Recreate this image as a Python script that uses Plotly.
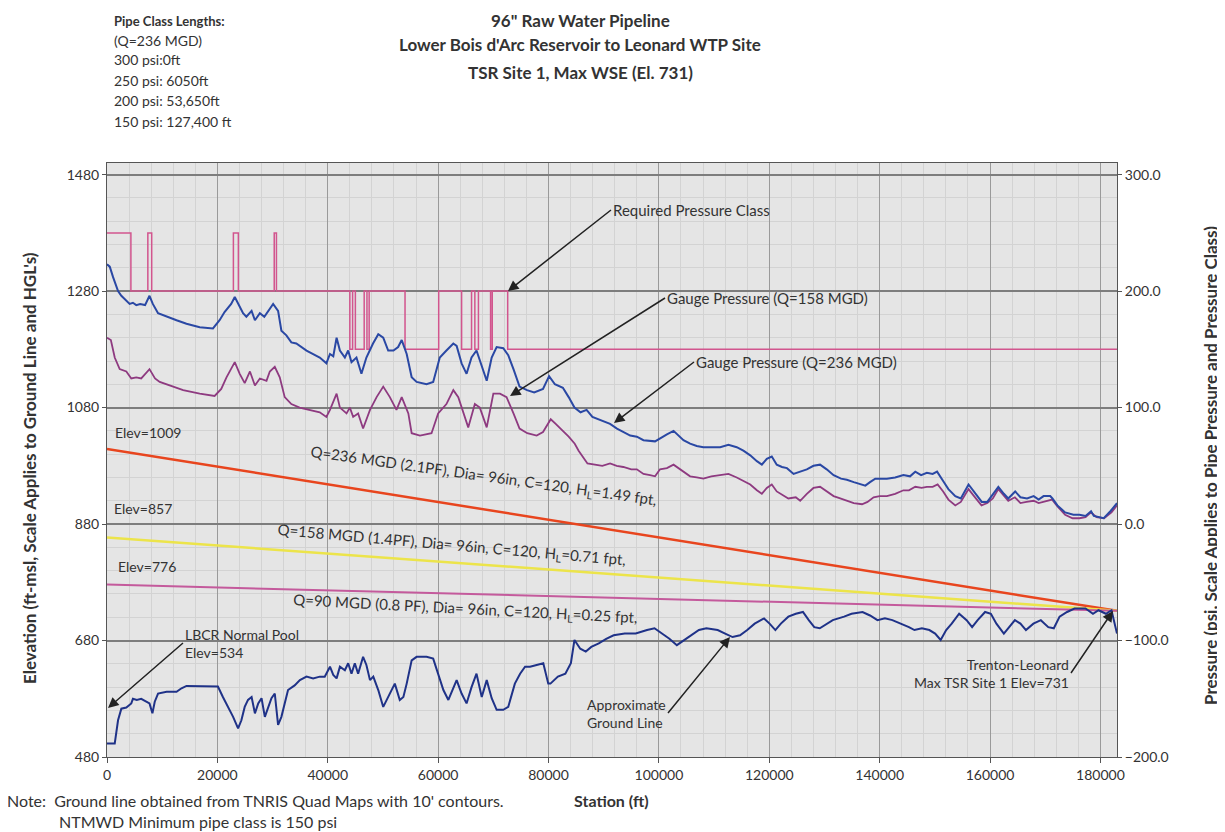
import plotly.graph_objects as go

# ---- data ----
ground_station = [0, 1400, 2000, 2600, 3500, 4400, 4700, 5400, 6200, 7100, 7700, 8230, 8650, 9250, 10800,
                  12600, 13500, 14400, 16200, 19200, 20100, 21000, 21950, 22850, 23750, 24350, 24950, 25550,
                  26200, 26800, 27400, 28000, 28600, 29200, 29800, 30400, 31000, 31600, 32200, 32800, 34000,
                  34950, 36150, 37350, 38550, 39450, 40400, 41000, 41600, 42200, 43100, 43700, 44300, 44900,
                  45500, 46400, 47000, 47650, 48250, 49150, 50050, 50650, 51250, 52150, 53050, 53700, 54300,
                  55200, 56100, 57900, 59100, 60000, 60950, 61850, 62750, 63350, 64250, 65150, 66050, 66950,
                  67900, 68800, 69700, 70600, 71800, 72700, 73900, 74850, 75750, 76650, 77850, 79050, 79950,
                  80350, 81700, 83050, 84050, 84700, 85750, 86750, 87750, 89100, 90450, 91800, 93800, 95800,
                  97850, 99200, 100550, 101900, 103250, 104600, 105900, 107250, 108600, 110650, 112000, 113350,
                  114700, 116000, 117350, 119050, 120050, 121100, 122100, 123450, 124800, 126100, 127150,
                  128150, 129150, 130500, 131500, 133550, 134900, 136900, 138250, 139600, 140950, 142300,
                  143950, 145300, 146300, 147650, 149000, 150050, 151050, 152050, 153050, 154400, 155750,
                  156750, 157750, 159100, 160150, 161150, 162500, 163500, 164500, 165500, 166500, 167850,
                  169200, 170550, 171550, 172600, 173950, 175300, 177300, 178650, 179650, 181000, 182000, 183000]
ground_elev = [503, 503, 543, 563, 565, 572, 580, 578, 580, 575, 572, 555, 575, 589, 592,
               592, 598, 602, 602, 602, 601, 583, 566, 549, 529, 543, 566, 578,
               583, 555, 572, 581, 549, 566, 581, 589, 535, 549, 575, 595, 603,
               612, 618, 615, 618, 618, 635, 621, 615, 635, 629, 641, 623, 641,
               623, 652, 638, 612, 618, 595, 566, 578, 589, 606, 578, 583, 606,
               646, 652, 652, 649, 623, 595, 578, 600, 612, 589, 572, 600, 623,
               583, 612, 581, 561, 561, 566, 606, 623, 635, 635, 638, 641, 606,
               606, 618, 623, 641, 681, 666, 661, 669, 675, 683, 689, 692, 692,
               698, 701, 692, 683, 672, 681, 689, 698, 701, 698, 692, 686,
               689, 698, 709, 718, 709, 698, 709, 721, 726, 729, 715,
               703, 701, 709, 715, 721, 726, 729, 723, 715, 718, 715,
               709, 703, 698, 701, 698, 692, 681, 698, 709, 726, 715,
               703, 715, 729, 726, 709, 692, 703, 715, 709, 698, 709,
               715, 703, 701, 721, 729, 735, 735, 726, 732, 726, 732, 692]

gp236_station = [0, 500, 1100, 2000, 2600, 3500, 4100, 4700, 5300, 6000, 6900, 7700, 8300, 9250, 10800, 12600,
                 14400, 16800, 19200, 20400, 21300, 22500, 23150, 23750, 24650, 25250, 26200, 26800, 27700,
                 28500, 29200, 30100, 31000, 31600, 32500, 33400, 34300, 36150, 37350, 38550, 39750, 40400,
                 41000, 41600, 42200, 43100, 43700, 44300, 45200, 46100, 47000, 48200, 49150, 50050, 50950,
                 51900, 52750, 53400, 54300, 55200, 56100, 57900, 59100, 60300, 61500, 62750, 63350, 64250,
                 65150, 66050, 66950, 67900, 68800, 69700, 70600, 71800, 72700, 73650, 74750, 76100, 77400,
                 79000, 80100, 81150, 82600, 83650, 84700, 85800, 86900, 87950, 89750, 91150, 92400, 93600,
                 94800, 96000, 97200, 99300, 100300, 101450, 102650, 103550, 104450, 105650, 106850, 108050,
                 109500, 111100, 112600, 114100, 115300, 116550, 117750, 118650, 119550, 120450, 121350,
                 122300, 123200, 124400, 125600, 126800, 128000, 129200, 130400, 131650, 133000, 134050,
                 135300, 136500, 137400, 138250, 139200, 140300, 141300, 142800, 144300, 145500, 146450,
                 147500, 148550, 149600, 150400, 151500, 152450, 153700, 154700, 156100, 157200, 158500,
                 159500, 160400, 161500, 162500, 163300, 164550, 165500, 166700, 167900, 168800, 169700,
                 170900, 171300, 172200, 173600, 175100, 176200, 177300, 178300, 178800, 180600, 181800, 183000]
gp236_psi = [223, 221, 212, 200, 196, 192, 189, 190, 188, 189, 188, 196, 189, 181, 178, 175,
             172, 169, 168, 175, 182, 189, 195, 189, 181, 178, 183, 175, 181,
             178, 183, 189, 183, 166, 162, 156, 155, 149, 146, 143, 138, 146,
             144, 160, 149, 143, 149, 139, 143, 129, 143, 155, 163, 160, 149,
             149, 152, 158, 146, 126, 122, 120, 122, 143, 149, 155, 153, 138,
             129, 143, 149, 135, 123, 143, 152, 151, 145, 133, 118, 115, 113,
             116, 127, 120, 117, 109, 100, 96, 98, 92, 89, 86, 82, 79,
             76, 75, 72, 71, 74, 77, 80, 76, 72, 69, 67, 66,
             66, 66, 68, 66, 63, 59, 54, 51, 56, 58, 51,
             49, 48, 43, 45, 47, 50, 51, 47, 42, 39, 38,
             36, 34, 33, 36, 39, 39, 39, 40, 42, 41, 45,
             42, 44, 43, 45, 37, 30, 24, 22, 34, 27, 19,
             19, 25, 32, 26, 22, 28, 23, 22, 24, 21, 24,
             24, 22, 16, 10, 8, 8, 7, 11, 7, 5, 11, 18]

gp158_station = [0, 700, 1400, 2300, 3500, 4400, 5300, 6200, 7700, 8700, 9550, 12000, 13800, 16800, 19500,
                 20700, 21650, 23150, 24050, 24950, 25900, 26800, 27700, 28900, 29500, 30400, 31300, 32200,
                 33400, 34900, 36750, 38550, 39750, 40400, 41600, 42200, 43400, 44000, 44600, 45500, 46400,
                 47650, 48850, 50050, 51250, 52450, 53400, 54600, 55200, 56700, 58800, 60000, 61500, 62750,
                 63650, 64550, 65450, 66650, 67550, 68800, 70000, 71200, 72400, 73650, 74750, 76150, 77850,
                 79000, 80400, 81300, 82600, 83650, 84750, 85450, 87050, 89750, 91150, 92350, 93550, 95000,
                 96000, 97200, 98400, 99300, 100200, 101450, 102650, 103500, 104450, 105650, 106850, 108050,
                 109500, 111100, 112600, 114100, 115300, 116550, 117750, 118650, 119550, 120450, 121350,
                 122300, 123450, 124800, 125600, 126800, 128000, 129200, 130400, 131650, 132850, 134050,
                 135300, 136800, 137800, 138900, 140000, 141300, 142800, 144300, 145300, 146450, 147600,
                 148550, 149600, 150500, 151500, 152450, 153700, 154700, 156100, 157100, 158450, 159500,
                 160500, 161500, 162400, 163300, 164500, 165500, 166600, 167900, 168800, 170200, 171250,
                 172250, 173600, 174950, 176200, 177300, 178300, 179300, 180650, 182000, 183000]
gp158_psi = [160, 158, 143, 133, 131, 125, 126, 125, 133, 125, 122, 118, 115, 112, 110,
             116, 126, 139, 129, 121, 131, 119, 125, 123, 131, 135, 126, 109,
             103, 100, 98, 96, 92, 98, 112, 100, 95, 100, 92, 95, 82,
             98, 109, 118, 109, 98, 109, 95, 78, 76, 78, 95, 103, 115,
             109, 95, 83, 103, 100, 83, 112, 112, 109, 95, 82, 78, 76,
             79, 90, 86, 80, 75, 69, 63, 52, 50, 52, 50, 49, 47,
             47, 43, 42, 41, 47, 48, 51, 48, 45, 41, 40, 39,
             41, 42, 43, 40, 37, 34, 29, 26, 31, 34, 28,
             25, 22, 23, 20, 26, 31, 32, 28, 24, 22, 20,
             18, 17, 19, 23, 24, 24, 26, 29, 29, 32, 31,
             32, 32, 34, 28, 21, 16, 19, 30, 24, 16, 18,
             22, 30, 25, 20, 23, 18, 19, 20, 18, 20, 21,
             15, 8, 5, 5, 6, 10, 6, 5, 10, 16]

class_station = [0, 4330, 7400, 8100, 22900, 23800, 30300, 30700, 44000, 44500, 45000, 46600, 47100, 47500,
                 54000, 60100, 64250, 66050, 66650, 67300, 69500, 69800, 72600, 183000]
class_psi = [250, 200, 250, 200, 250, 200, 250, 200, 150, 200, 150, 200, 150, 200,
             150, 200, 150, 200, 150, 200, 150, 200, 150, 150]

hgl_station = [0, 183000]
hgl_236 = [1009, 731]
hgl_158 = [857, 731]
hgl_90 = [776, 731]

# the page adds an 8px body margin, so the figure is drawn 8px smaller
# and every position below is given in page pixels
OFF = 8
FIG_W, FIG_H = 1217, 824
L, R, T, B = 107, 1117, 163, 757
W, H = R - L, B - T


def px(x):
    return (x - L) / W


def py(y):
    return (B - y) / H


FONT = "Lato"
TXT = "#333333"

fig = go.Figure()

fig.add_trace(go.Scatter(x=hgl_station, y=hgl_236, mode="lines", line=dict(color="#e8451e", width=2.5)))
fig.add_trace(go.Scatter(x=hgl_station, y=hgl_158, mode="lines", line=dict(color="#ece44a", width=2.5)))
fig.add_trace(go.Scatter(x=hgl_station, y=hgl_90, mode="lines", line=dict(color="#c45a9c", width=2)))
fig.add_trace(go.Scatter(x=ground_station, y=ground_elev, mode="lines", line=dict(color="#1f3288", width=2)))
fig.add_trace(go.Scatter(x=class_station, y=class_psi, mode="lines", yaxis="y2",
                         line=dict(color="#d2558e", width=1.5, shape="hv")))
fig.add_trace(go.Scatter(x=gp158_station, y=gp158_psi, mode="lines", yaxis="y2",
                         line=dict(color="#8e3a80", width=1.8)))
fig.add_trace(go.Scatter(x=gp236_station, y=gp236_psi, mode="lines", yaxis="y2",
                         line=dict(color="#2a48a4", width=2)))

ann = []


def text(x, y, s, size=12, bold=False, xanchor="left", align="left", angle=0):
    if bold:
        s = "<b>" + s + "</b>"
    ann.append(dict(x=px(x), y=py(y), xref="paper", yref="paper",
                    text=s, showarrow=False, xanchor=xanchor, yanchor="middle", align=align,
                    textangle=angle, font=dict(family=FONT, size=size, color=TXT)))


# titles
text(580, 20, '96" Raw Water Pipeline', 17, True, "center")
text(580, 45, "Lower Bois d'Arc Reservoir to Leonard WTP Site", 17, True, "center")
text(580, 72, "TSR Site 1, Max WSE (El. 731)", 17, True, "center")

# pipe class block
text(112, 21, "Pipe Class Lengths:", 13, True)
for yy, s in zip([41, 60, 80, 100, 121],
                 ["(Q=236 MGD)", "300 psi:0ft", "250 psi: 6050ft", "200 psi: 53,650ft", "150 psi: 127,400 ft"]):
    text(112, yy, s, 14)

# axis titles
text(30, 468, "Elevation (ft-msl, Scale Applies to Ground Line and HGL's)", 17, True, "center", angle=-90)
text(1210, 466, "Pressure (psi, Scale Applies to Pipe Pressure and Pressure Class)", 17, True, "center", angle=-90)
text(611, 801, "Station (ft)", 16, True, "center")

# note
text(5, 800, "Note:  Ground line obtained from TNRIS Quad Maps with 10' contours.", 16)
text(57, 821, "NTMWD Minimum pipe class is 150 psi", 16)

# labels inside plot
text(113, 432, "Elev=1009", 14)
text(112, 508, "Elev=857", 14)
text(116, 566, "Elev=776", 14)
text(483, 476, "Q=236 MGD (2.1PF), Dia= 96in, C=120, H<sub>L</sub>=1.49 fpt,", 15, False, "center", angle=8)
text(451, 545, "Q=158 MGD (1.4PF), Dia= 96in, C=120, H<sub>L</sub>=0.71 fpt,", 15, False, "center", angle=5)
text(465, 609, "Q=90 MGD (0.8 PF), Dia= 96in, C=120, H<sub>L</sub>=0.25 fpt,", 15, False, "center", angle=3)


def arrow(tip, tail, s, size=13, xanchor="left", align="left"):
    ann.append(dict(x=px(tip[0]), y=py(tip[1]), xref="paper", yref="paper",
                    ax=tail[0] - tip[0], ay=tail[1] - tip[1], axref="pixel", ayref="pixel",
                    text=s, showarrow=True, arrowhead=2, arrowsize=1.4, arrowwidth=1.5, arrowcolor="#222",
                    xanchor=xanchor, yanchor="middle", align=align,
                    font=dict(family=FONT, size=size, color=TXT)))


arrow((508, 291), (611, 210), "Required Pressure Class", 15)
arrow((510, 396), (665, 298), "Gauge Pressure (Q=158 MGD)", 15)
arrow((614, 423), (694, 362), "Gauge Pressure (Q=236 MGD)", 15)
arrow((108, 708), (183, 643), "LBCR Normal Pool<br>Elev=534", 14)
arrow((730, 637), (668, 713), "Approximate<br>Ground Line", 14, "right", "left")
arrow((1113, 611), (1071, 673), "Trenton-Leonard<br>Max TSR Site 1 Elev=731", 14, "right", "right")

fig.update_layout(
    width=FIG_W, height=FIG_H,
    margin=dict(l=L - OFF, r=FIG_W - (R - OFF), t=T - OFF, b=FIG_H - (B - OFF)),
    paper_bgcolor="white", plot_bgcolor="#e5e5e5",
    showlegend=False,
    font=dict(family=FONT, size=13, color=TXT),
    annotations=ann,
    xaxis=dict(range=[0, 183000], tick0=0, dtick=20000, tickformat="d", showgrid=True,
               gridcolor="#9a9a9a", gridwidth=1, zeroline=False, showline=True, linecolor="#555",
               ticks="outside", ticklen=5, tickcolor="#555", mirror=True,
               minor=dict(dtick=4000, showgrid=True, gridcolor="#d3d3d3", gridwidth=1),
               tickfont=dict(size=14)),
    yaxis=dict(range=[480, 1500], tick0=480, dtick=200, showgrid=True, gridcolor="#7d7d7d", gridwidth=1.5,
               zeroline=False, showline=True, linecolor="#555", ticks="outside", ticklen=4, tickcolor="#555",
               minor=dict(dtick=40, showgrid=True, gridcolor="#d3d3d3", gridwidth=1),
               tickfont=dict(size=14)),
    yaxis2=dict(range=[-200, 310], tick0=-200, dtick=100, tickformat=".1f", overlaying="y", side="right",
                showgrid=False, zeroline=False, showline=True, linecolor="#555", ticks="outside",
                ticklen=4, tickcolor="#555", tickfont=dict(size=14)),
)

fig.write_html("out.html")
